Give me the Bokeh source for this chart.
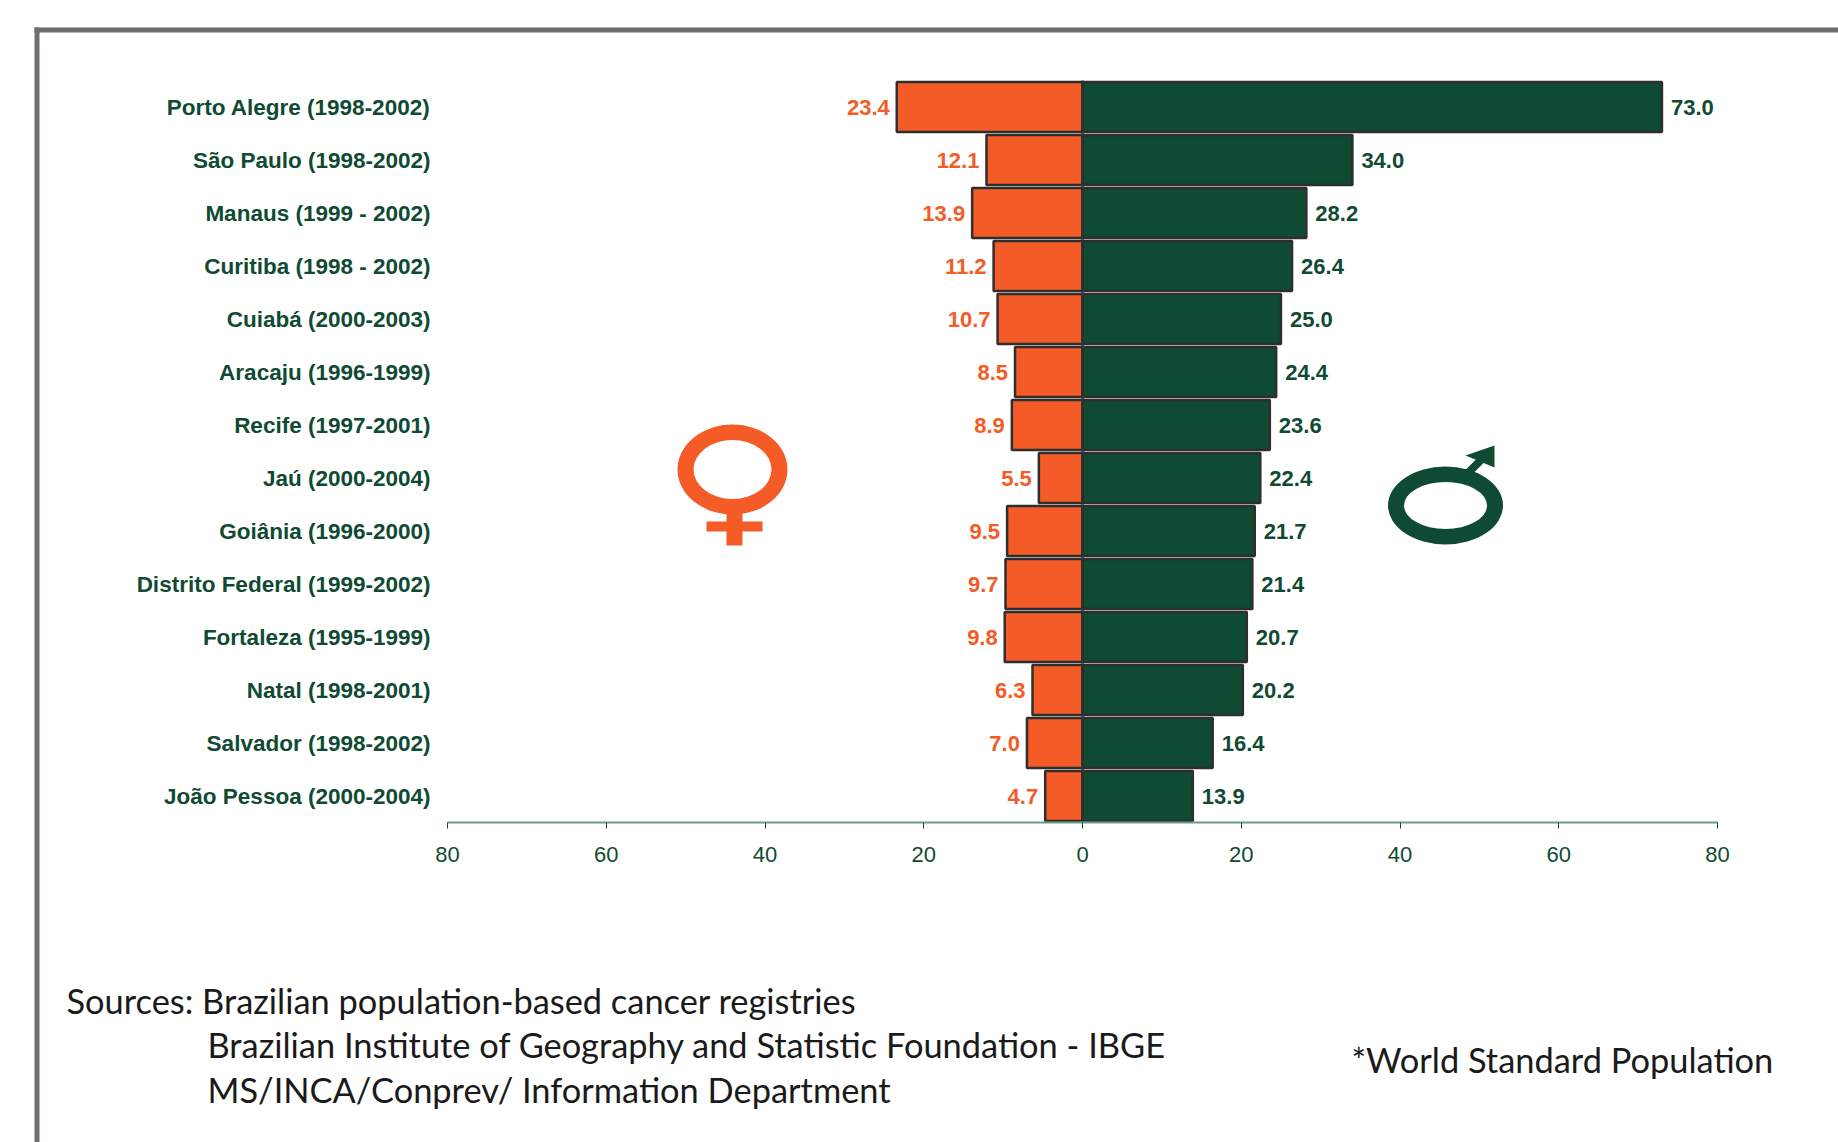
from bokeh.embed import file_html
from bokeh.resources import INLINE
from bokeh.plotting import figure
from bokeh.models import (ColumnDataSource, Range1d, FixedTicker, Label, BoxAnnotation)
from bokeh.core.properties import value

registries = ["Porto Alegre (1998-2002)", "São Paulo (1998-2002)", "Manaus (1999 - 2002)",
              "Curitiba (1998 - 2002)", "Cuiabá (2000-2003)", "Aracaju (1996-1999)",
              "Recife (1997-2001)", "Jaú (2000-2004)", "Goiânia (1996-2000)",
              "Distrito Federal (1999-2002)", "Fortaleza (1995-1999)", "Natal (1998-2001)",
              "Salvador (1998-2002)", "João Pessoa (2000-2004)"]
female_rates = [23.4, 12.1, 13.9, 11.2, 10.7, 8.5, 8.9, 5.5, 9.5, 9.7, 9.8, 6.3, 7.0, 4.7]
male_rates = [73.0, 34.0, 28.2, 26.4, 25.0, 24.4, 23.6, 22.4, 21.7, 21.4, 20.7, 20.2, 16.4, 13.9]
x_ticks = [-80, -60, -40, -20, 0, 20, 40, 60, 80]

ORANGE = "#f45b26"
GREEN = "#0f4a32"
EDGE = "#2e2e2e"
FRAME = "#6d6e71"

WIDTH, HEIGHT = 1838, 1142
LEFT, RIGHT = 447, 1717
TOP, BOTTOM = 80, 822
ROW = (BOTTOM - TOP) / 14


def px_x(px):
    return (px - (LEFT + RIGHT) / 2) / ((RIGHT - LEFT) / 160)


def px_y(py):
    return 0.5 + (py - TOP) / ROW


rows = list(range(1, len(registries) + 1))
src = ColumnDataSource(dict(
    row=rows,
    female=[-v for v in female_rates],
    male=male_rates,
    female_text=[f"{v:.1f}" for v in female_rates],
    male_text=[f"{v:.1f}" for v in male_rates],
))

# The plot area covers the whole page; both axes are pinned at fixed data positions
p = figure(width=WIDTH, height=HEIGHT, output_backend="svg", toolbar_location=None,
           x_range=Range1d(px_x(0), px_x(WIDTH)), y_range=Range1d(px_y(HEIGHT), px_y(0)),
           min_border=0, outline_line_color=None,
           background_fill_color="white", border_fill_color="white")
p.grid.visible = False

# Horizontal axis with the mirrored rate scale
p.xaxis.fixed_location = px_y(BOTTOM)
p.xaxis.bounds = (-80, 80)
p.xaxis.ticker = FixedTicker(ticks=x_ticks)
p.xaxis.major_label_overrides = {t: str(abs(t)) for t in x_ticks}
p.xaxis.axis_line_color = "#6f9c8a"
p.xaxis.axis_line_width = 2
p.xaxis.major_tick_line_color = GREEN
p.xaxis.major_tick_out = 6
p.xaxis.major_tick_in = 0
p.xaxis.minor_tick_line_color = None
p.xaxis.major_label_text_color = GREEN
p.xaxis.major_label_text_font = "Liberation Sans"
p.xaxis.major_label_text_font_size = "22px"
p.xaxis.major_label_standoff = 18

# Registry names on the left
p.yaxis.fixed_location = px_x(LEFT)
p.yaxis.ticker = FixedTicker(ticks=rows)
p.yaxis.major_label_overrides = dict(zip(rows, registries))
p.yaxis.axis_line_color = None
p.yaxis.major_tick_line_color = None
p.yaxis.minor_tick_line_color = None
p.yaxis.major_label_text_color = GREEN
p.yaxis.major_label_text_font = "Liberation Sans"
p.yaxis.major_label_text_font_style = "bold"
p.yaxis.major_label_text_font_size = "22.5px"
p.yaxis.major_label_standoff = 11

# Centre line running behind the bars
p.line(x=[0, 0], y=[px_y(TOP), px_y(BOTTOM)], line_color="#77787b", line_width=3)

p.hbar(y="row", left="female", right=0, height=0.94, source=src,
       fill_color=ORANGE, line_color=EDGE, line_width=2.5)
p.hbar(y="row", left=0, right="male", height=0.94, source=src,
       fill_color=GREEN, line_color=EDGE, line_width=2.5)

p.text(x="female", y="row", text="female_text", source=src, x_offset=-7,
       text_align="right", text_baseline="middle", text_color=ORANGE,
       text_font=value("Liberation Sans"), text_font_style="bold", text_font_size="22px")
p.text(x="male", y="row", text="male_text", source=src, x_offset=9,
       text_align="left", text_baseline="middle", text_color=GREEN,
       text_font=value("Liberation Sans"), text_font_style="bold", text_font_size="22px")

# Venus symbol
p.ellipse(x=[px_x(732)], y=[px_y(469)], width=110, height=90, width_units="screen",
          height_units="screen", fill_color=ORANGE, line_color=None)
p.ellipse(x=[px_x(732)], y=[px_y(469)], width=78, height=59, width_units="screen",
          height_units="screen", fill_color="white", line_color=None)
p.quad(left=[px_x(726)], right=[px_x(742)], top=[px_y(511)], bottom=[px_y(545)],
       fill_color=ORANGE, line_color=None)
p.quad(left=[px_x(706)], right=[px_x(762)], top=[px_y(521)], bottom=[px_y(531)],
       fill_color=ORANGE, line_color=None)

# Mars symbol
p.ellipse(x=[px_x(1445)], y=[px_y(505)], width=115, height=78, width_units="screen",
          height_units="screen", fill_color=GREEN, line_color=None)
p.ellipse(x=[px_x(1445)], y=[px_y(505)], width=83, height=47, width_units="screen",
          height_units="screen", fill_color="white", line_color=None)
p.line(x=[px_x(1468), px_x(1484)], y=[px_y(472), px_y(456)], line_color=GREEN, line_width=8)
p.patch(x=[px_x(1494), px_x(1494), px_x(1465)], y=[px_y(445), px_y(467), px_y(455)],
        fill_color=GREEN, line_color=None)

# Page frame, open on the right and at the bottom
p.add_layout(BoxAnnotation(left=px_x(34), right=px_x(39), top=px_y(27), bottom=px_y(HEIGHT),
                           fill_color=FRAME, fill_alpha=1, line_color=None))
p.add_layout(BoxAnnotation(left=px_x(34), right=px_x(WIDTH), top=px_y(27), bottom=px_y(32),
                           fill_color=FRAME, fill_alpha=1, line_color=None))

notes = [
    ("Sources: Brazilian population-based cancer registries", 66, 1000),
    ("Brazilian Institute of Geography and Statistic Foundation - IBGE", 207, 1044),
    ("MS/INCA/Conprev/ Information Department", 207, 1089),
    ("*World Standard Population", 1351, 1059),
]
for text, nx, ny in notes:
    p.add_layout(Label(x=px_x(nx), y=px_y(ny), text=text,
                       text_font="Lato", text_font_size="34.4px", text_color="#1a1a1a",
                       text_baseline="middle", text_align="left"))

open("out.html", "w").write(file_html(p, INLINE))
